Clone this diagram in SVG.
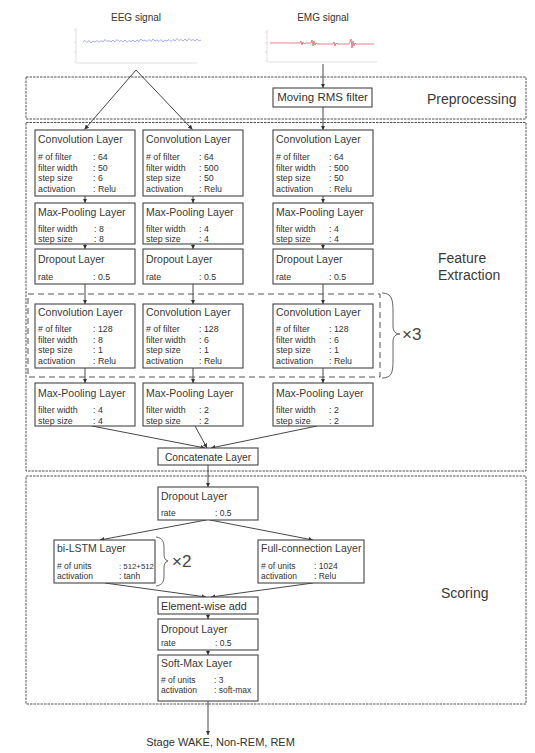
<svg xmlns="http://www.w3.org/2000/svg" width="535" height="753" viewBox="0 0 535 753">
<defs>
<marker id="ah" viewBox="0 0 6 6" refX="6" refY="3" markerWidth="4.5" markerHeight="4.5" markerUnits="userSpaceOnUse" orient="auto">
<path d="M0,0 L6,3 L0,6 z" fill="#333"/>
</marker>
<style>
text{font-family:"Liberation Sans",Arial,sans-serif;fill:#333}
.box{fill:#fff;stroke:#444;stroke-width:1.1}
.sec{fill:none;stroke:#555;stroke-width:1;stroke-dasharray:2.5,1}
.t{font-size:10.5px;fill:#3a3a3a}
.p{font-size:8.8px}
.ps{font-size:8.5px}
.lab{font-size:14px;fill:#3a3a3a}
.con{fill:none;stroke:#333;stroke-width:0.9;marker-end:url(#ah)}
</style>
</defs>
<rect width="535" height="753" fill="#fff"/>

<g id="sections">
<rect class="sec" x="26" y="77" width="500" height="42"/>
<rect class="sec" x="26" y="122.5" width="500" height="348.5"/>
<rect class="sec" x="26" y="476" width="500" height="228"/>
<text class="lab" x="427" y="104">Preprocessing</text>
<text class="lab" x="438" y="263">Feature</text>
<text class="lab" x="438" y="280">Extraction</text>
<text class="lab" x="441" y="598">Scoring</text>
</g>

<g id="eeg">
<text x="136" y="21" text-anchor="middle" style="font-size:10px">EEG signal</text>
<path stroke="#ccc" stroke-width="0.6" fill="none" d="M76,28 V62 M74,30 h2 M74,42 h2 M74,52 h2 M74,62 h2 M76,63 H197"/>
<path fill="none" stroke="#9090ee" stroke-width="0.9" opacity="0.85" d="M83,42 l2,-1.5 2,2 2,-2 2,2.5 2,-2 2,1 2,-1.5 2,2 2,-2 2,1.5 2,-2.5 2,2 2,-1 2,1.5 2,-2 2,2 2,-2.5 2,2 2,-1 2,1.5 2,-2 2,2.5 2,-2 2,1 2,-1.5 2,2 2,-2 2,1.5 2,-2.5 2,2 2,-1 2,1.5 2,-2 2,2 2,-2.5 2,2 2,-1 2,1.5 2,-2 2,2.5 2,-2 2,1 2,-1.5 2,2 2,-2 2,1.5 2,-2.5 2,2 2,-1 2,1.5 2,-2 2,2 2,-2.5 2,2 2,-1 2,1.5 2,-2 2,2 2,-1"/>
</g>
<g id="emg">
<text x="323" y="21" text-anchor="middle" style="font-size:10px">EMG signal</text>
<path stroke="#ccc" stroke-width="0.6" fill="none" d="M267,30 V61 M265,32 h2 M265,43 h2 M265,52 h2 M265,61 h2 M267,62 H377"/>
<path fill="none" stroke="#e8606e" stroke-width="0.9" opacity="0.9" d="M270,43 H300 l1,-2 1,4 1,-3 1,2 1,-1 H311 l1,-3 1,6 1,-5 1,4 1,-2 1,1 H333 l1,-2 1,4 1,-3 1,1 H349 l1,-2 1,-3 1,9 1,-7 1,5 1,-3 1,1 H374"/>
</g>

<g id="connectors">
<path class="con" d="M136,70 L84.5,129.5"/>
<path class="con" d="M136,70 L192.5,129.5"/>
<path class="con" d="M323,64 V88"/>
<path class="con" d="M323,107 V130"/>
<path class="con" d="M85,196 V203"/>
<path class="con" d="M193,196 V203"/>
<path class="con" d="M323,196 V203"/>
<path class="con" d="M85,244 V249"/>
<path class="con" d="M193,244 V249"/>
<path class="con" d="M323,244 V249"/>
<path class="con" d="M85,284 V304"/>
<path class="con" d="M193,284 V304"/>
<path class="con" d="M323,284 V304"/>
<path class="con" d="M85,368 V383"/>
<path class="con" d="M193,368 V383"/>
<path class="con" d="M323,368 V383"/>
<path class="con" d="M92,426 L205,448"/>
<path class="con" d="M195,426 L207,448"/>
<path class="con" d="M317,426 L211,448"/>
<path class="con" d="M208,465 V487"/>
<path class="con" d="M206,520 L100,540"/>
<path class="con" d="M210,520 L313,540"/>
<path class="con" d="M105,583 L206,597"/>
<path class="con" d="M313,583 L211,597"/>
<path class="con" d="M208,614 V619"/>
<path class="con" d="M208,650 V655"/>
<path class="con" d="M208,701 V735"/>
</g>

<g id="repeat3">
<rect x="28" y="294" width="352" height="83" fill="none" stroke="#555" stroke-width="1" stroke-dasharray="6,4"/>
<path d="M382,293 C392,293 393,300 393,312 L393,326 C393,332 396,334 400,334 C396,334 393,336 393,342 L393,360 C393,372 392,378 382,378" fill="none" stroke="#555" stroke-width="0.9"/>
<text x="402" y="340" style="font-size:17px;fill:#444">×3</text>
</g>

<g id="rms">
<rect class="box" x="273" y="88" width="99" height="19"/>
<text x="322.5" y="101" text-anchor="middle" style="font-size:11.5px">Moving RMS filter</text>
</g>

<g id="conv1a">
<rect class="box" x="35" y="130" width="100" height="66"/>
<text class="t" x="38" y="143">Convolution Layer</text>
<text class="p">
<tspan x="38" y="160"># of filter</tspan><tspan x="93" y="160">: 64</tspan>
<tspan x="38" y="170.5">filter width</tspan><tspan x="93" y="170.5">: 50</tspan>
<tspan x="38" y="181">step size</tspan><tspan x="93" y="181">: 6</tspan>
<tspan x="38" y="191.5">activation</tspan><tspan x="93" y="191.5">: Relu</tspan></text>
</g>
<g id="conv1b">
<rect class="box" x="143" y="130" width="100" height="66"/>
<text class="t" x="146" y="143">Convolution Layer</text>
<text class="p">
<tspan x="146" y="160"># of filter</tspan><tspan x="199" y="160">: 64</tspan>
<tspan x="146" y="170.5">filter width</tspan><tspan x="199" y="170.5">: 500</tspan>
<tspan x="146" y="181">step size</tspan><tspan x="199" y="181">: 50</tspan>
<tspan x="146" y="191.5">activation</tspan><tspan x="199" y="191.5">: Relu</tspan></text>
</g>
<g id="conv1c">
<rect class="box" x="273" y="130" width="100" height="66"/>
<text class="t" x="276" y="143">Convolution Layer</text>
<text class="p">
<tspan x="276" y="160"># of filter</tspan><tspan x="329" y="160">: 64</tspan>
<tspan x="276" y="170.5">filter width</tspan><tspan x="329" y="170.5">: 500</tspan>
<tspan x="276" y="181">step size</tspan><tspan x="329" y="181">: 50</tspan>
<tspan x="276" y="191.5">activation</tspan><tspan x="329" y="191.5">: Relu</tspan></text>
</g>

<g id="pool1a">
<rect class="box" x="35" y="203" width="100" height="41"/>
<text class="t" x="38" y="215.5">Max-Pooling Layer</text>
<text class="p"><tspan x="38" y="231.5">filter width</tspan><tspan x="94" y="231.5">: 8</tspan>
<tspan x="38" y="241.5">step size</tspan><tspan x="94" y="241.5">: 8</tspan></text>
</g>
<g id="pool1b">
<rect class="box" x="143" y="203" width="100" height="41"/>
<text class="t" x="146" y="215.5">Max-Pooling Layer</text>
<text class="p"><tspan x="146" y="231.5">filter width</tspan><tspan x="199" y="231.5">: 4</tspan>
<tspan x="146" y="241.5">step size</tspan><tspan x="199" y="241.5">: 4</tspan></text>
</g>
<g id="pool1c">
<rect class="box" x="273" y="203" width="100" height="41"/>
<text class="t" x="276" y="215.5">Max-Pooling Layer</text>
<text class="p"><tspan x="276" y="231.5">filter width</tspan><tspan x="329" y="231.5">: 4</tspan>
<tspan x="276" y="241.5">step size</tspan><tspan x="329" y="241.5">: 4</tspan></text>
</g>

<g id="drop1a">
<rect class="box" x="35" y="249" width="100" height="35"/>
<text class="t" x="38" y="262.5">Dropout Layer</text>
<text class="p"><tspan x="38" y="280">rate</tspan><tspan x="93" y="280">: 0.5</tspan></text>
</g>
<g id="drop1b">
<rect class="box" x="143" y="249" width="100" height="35"/>
<text class="t" x="146" y="262.5">Dropout Layer</text>
<text class="p"><tspan x="146" y="280">rate</tspan><tspan x="199" y="280">: 0.5</tspan></text>
</g>
<g id="drop1c">
<rect class="box" x="273" y="249" width="100" height="35"/>
<text class="t" x="276" y="262.5">Dropout Layer</text>
<text class="p"><tspan x="276" y="280">rate</tspan><tspan x="329" y="280">: 0.5</tspan></text>
</g>

<g id="conv2a">
<rect class="box" x="35" y="304" width="100" height="64"/>
<text class="t" x="38" y="316">Convolution Layer</text>
<text class="p">
<tspan x="38" y="332"># of filter</tspan><tspan x="93" y="332">: 128</tspan>
<tspan x="38" y="342.5">filter width</tspan><tspan x="93" y="342.5">: 8</tspan>
<tspan x="38" y="353">step size</tspan><tspan x="93" y="353">: 1</tspan>
<tspan x="38" y="363.5">activation</tspan><tspan x="93" y="363.5">: Relu</tspan></text>
</g>
<g id="conv2b">
<rect class="box" x="143" y="304" width="100" height="64"/>
<text class="t" x="146" y="316">Convolution Layer</text>
<text class="p">
<tspan x="146" y="332"># of filter</tspan><tspan x="199" y="332">: 128</tspan>
<tspan x="146" y="342.5">filter width</tspan><tspan x="199" y="342.5">: 6</tspan>
<tspan x="146" y="353">step size</tspan><tspan x="199" y="353">: 1</tspan>
<tspan x="146" y="363.5">activation</tspan><tspan x="199" y="363.5">: Relu</tspan></text>
</g>
<g id="conv2c">
<rect class="box" x="273" y="304" width="100" height="64"/>
<text class="t" x="276" y="316">Convolution Layer</text>
<text class="p">
<tspan x="276" y="332"># of filter</tspan><tspan x="329" y="332">: 128</tspan>
<tspan x="276" y="342.5">filter width</tspan><tspan x="329" y="342.5">: 6</tspan>
<tspan x="276" y="353">step size</tspan><tspan x="329" y="353">: 1</tspan>
<tspan x="276" y="363.5">activation</tspan><tspan x="329" y="363.5">: Relu</tspan></text>
</g>

<g id="pool2a">
<rect class="box" x="35" y="383" width="100" height="43"/>
<text class="t" x="38" y="396.5">Max-Pooling Layer</text>
<text class="p"><tspan x="38" y="413">filter width</tspan><tspan x="93" y="413">: 4</tspan>
<tspan x="38" y="423.5">step size</tspan><tspan x="93" y="423.5">: 4</tspan></text>
</g>
<g id="pool2b">
<rect class="box" x="143" y="383" width="100" height="43"/>
<text class="t" x="146" y="396.5">Max-Pooling Layer</text>
<text class="p"><tspan x="146" y="413">filter width</tspan><tspan x="199" y="413">: 2</tspan>
<tspan x="146" y="423.5">step size</tspan><tspan x="199" y="423.5">: 2</tspan></text>
</g>
<g id="pool2c">
<rect class="box" x="273" y="383" width="100" height="43"/>
<text class="t" x="276" y="396.5">Max-Pooling Layer</text>
<text class="p"><tspan x="276" y="413">filter width</tspan><tspan x="329" y="413">: 2</tspan>
<tspan x="276" y="423.5">step size</tspan><tspan x="329" y="423.5">: 2</tspan></text>
</g>

<g id="concat">
<rect class="box" x="158" y="448" width="100" height="17"/>
<text x="208" y="460.5" text-anchor="middle" style="font-size:10.2px">Concatenate Layer</text>
</g>

<g id="drop2">
<rect class="box" x="158" y="487" width="100" height="33"/>
<text class="t" x="161" y="500">Dropout Layer</text>
<text class="ps"><tspan x="161" y="516">rate</tspan><tspan x="215" y="516">: 0.5</tspan></text>
</g>

<g id="lstm">
<rect class="box" x="54" y="540" width="101" height="43"/>
<text class="t" x="57" y="551.5">bi-LSTM Layer</text>
<text class="ps"><tspan x="57" y="569"># of units</tspan><tspan x="119" y="569" style="font-size:7.8px">: 512+512</tspan>
<tspan x="57" y="578.5">activation</tspan><tspan x="119" y="578.5">: tanh</tspan></text>
</g>
<g id="repeat2">
<path d="M156,537 C163,538 164,542 164,548 L164,554 C164,558 165,560 168,561 C165,562 164,564 164,568 L164,575 C164,581 163,585 156,586" fill="none" stroke="#555" stroke-width="0.9"/>
<text x="172" y="567" style="font-size:17px;fill:#444">×2</text>
</g>

<g id="fc">
<rect class="box" x="258" y="540" width="106" height="43"/>
<text class="t" x="261" y="551.5">Full-connection Layer</text>
<text class="ps"><tspan x="261" y="569"># of units</tspan><tspan x="314" y="569">: 1024</tspan>
<tspan x="261" y="578.5">activation</tspan><tspan x="314" y="578.5">: Relu</tspan></text>
</g>

<g id="add">
<rect class="box" x="158" y="597" width="100" height="17"/>
<text x="161" y="609.5" style="font-size:10.8px">Element-wise add</text>
</g>

<g id="drop3">
<rect class="box" x="158" y="619" width="100" height="31"/>
<text class="t" x="161" y="633">Dropout Layer</text>
<text class="ps"><tspan x="161" y="646">rate</tspan><tspan x="215" y="646">: 0.5</tspan></text>
</g>

<g id="softmax">
<rect class="box" x="158" y="655" width="100" height="46"/>
<text class="t" x="161" y="667">Soft-Max Layer</text>
<text class="ps"><tspan x="161" y="683"># of units</tspan><tspan x="214" y="683">: 3</tspan>
<tspan x="161" y="692.5">activation</tspan><tspan x="214" y="692.5">: soft-max</tspan></text>
</g>

<g id="output">
<text x="220.5" y="746" text-anchor="middle" style="font-size:11px">Stage WAKE, Non-REM, REM</text>
</g>
</svg>
